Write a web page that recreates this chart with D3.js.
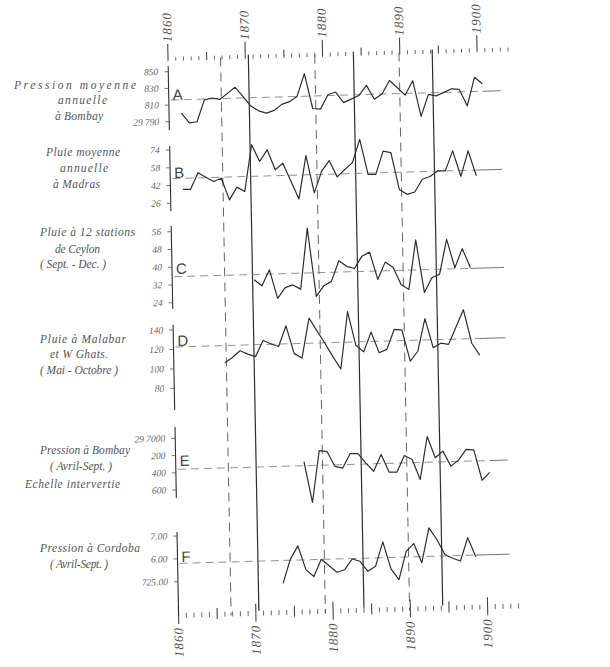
<!DOCTYPE html>
<html>
<head>
<meta charset="utf-8">
<script src="https://cdn.jsdelivr.net/npm/d3@7"></script>
<style>
  html, body { margin: 0; padding: 0; background: #fff; }
  svg { display: block; }
</style>
</head>
<body>
<svg id="chart" width="610" height="667"></svg>
<script>
// Sunspot epochs: minima drawn dashed, maxima drawn solid
const minimaYears = [1866.8, 1879.0, 1889.9];
const maximaYears = [1870.4, 1884.0, 1894.2];

// Axis years
const decadeYears = [1860, 1870, 1880, 1890, 1900];

// A — Pression moyenne annuelle à Bombay (inches)
const bombayAnnualFirstYear = 1861;
const bombayAnnual = [29.800, 29.788, 29.789, 29.815, 29.817, 29.815, 29.822, 29.829, 29.818, 29.806,
  29.800, 29.797, 29.800, 29.807, 29.810, 29.816, 29.843, 29.801, 29.800, 29.817,
  29.820, 29.807, 29.811, 29.815, 29.827, 29.810, 29.816, 29.832, 29.823, 29.814,
  29.831, 29.788, 29.814, 29.812, 29.816, 29.820, 29.819, 29.799, 29.833, 29.825];
const bombayAnnualMean = 29.816;
const bombayAnnualTicks = [29.85, 29.83, 29.81, 29.79];
const bombayAnnualTickLabels = ["850", "830", "810", "29 790"];

// B — Pluie moyenne annuelle à Madras (inches)
const madrasFirstYear = 1861;
const madrasRain = [38.3, 38.1, 52.9, 48.6, 44.5, 47.3, 27.6, 38.9, 34.7, 76.7,
  61.4, 71.7, 53.5, 59.3, 42.8, 26.7, 65.5, 31.8, 51.2, 60.5,
  45.6, 52.0, 58.0, 78.8, 47.0, 46.8, 67.6, 66.0, 32.7, 28.1,
  30.0, 41.3, 43.6, 48.4, 48.3, 66.1, 43.0, 65.7, 43.1];
const madrasMean = 48.2;
const madrasTicks = [74, 58, 42, 26];
const madrasTickLabels = ["74", "58", "42", "26"];

// C — Pluie à 12 stations de Ceylon, Sept.–Déc. (inches)
const ceylonFirstYear = 1870;
const ceylonRain = [33.3, 30.5, 37.6, 24.6, 29.4, 30.5, 28.5, 55.9, 25.0, 29.7,
  31.6, 40.8, 38.2, 37.1, 42.5, 44.3, 31.9, 39.6, 37.2, 29.3,
  27.0, 49.2, 25.4, 32.0, 33.4, 49.1, 36.2, 44.7, 36.1];
const ceylonMean = 35.7;
const ceylonTicks = [56, 48, 40, 32, 24];
const ceylonTickLabels = ["56", "48", "40", "32", "24"];

// D — Pluie à Malabar et W Ghats, Mai–Octobre (inches)
const malabarFirstYear = 1866;
const malabarRain = [104.8, 110.0, 116.8, 113.0, 110.3, 126.6, 123.0, 120.0, 141.0, 112.2,
  107.4, 148.4, 135.0, 122.0, 108.0, 95.1, 153.8, 119.0, 112.0, 132.1,
  110.7, 113.9, 134.2, 133.3, 101.1, 111.1, 144.4, 114.4, 118.7, 117.3,
  134.9, 152.4, 117.8, 105.3];
const malabarMean = 122.5;
const malabarTicks = [140, 120, 100, 80];
const malabarTickLabels = ["140", "120", "100", "80"];

// E — Pression à Bombay, Avril–Sept. (inches, inverted scale)
const bombaySummerFirstYear = 1876;
const bombaySummer = [29.7311, 29.7789, 29.7189, 29.7203, 29.7378, 29.7400, 29.7234, 29.7236, 29.7350, 29.7447,
  29.7255, 29.7463, 29.7465, 29.7274, 29.7323, 29.7557, 29.7061, 29.7310, 29.7236, 29.7412,
  29.7345, 29.7223, 29.7232, 29.7586, 29.7497];
const bombaySummerMean = 29.7360;
const bombaySummerTicks = [29.70, 29.72, 29.74, 29.76];
const bombaySummerTickLabels = ["29 7000", "200", "400", "600"];

// F — Pression à Cordoba, Avril–Sept. (mm)
const cordobaFirstYear = 1873;
const cordobaPressure = [724.80, 725.85, 726.42, 725.36, 725.06, 725.81, 725.51, 725.22, 725.32, 725.78,
  725.67, 725.22, 725.43, 726.49, 725.30, 724.82, 726.05, 726.38, 725.53, 727.05,
  726.53, 725.86, 725.69, 725.56, 726.57, 725.73];
const cordobaMean = 725.80;
const cordobaTicks = [727, 726, 725];
const cordobaTickLabels = ["7.00", "6.00", "725.00"];

// Left-hand captions
const captions = [
  ["Pression moyenne", "annuelle", "à Bombay"],
  ["Pluie moyenne", "annuelle", "à Madras"],
  ["Pluie à 12 stations", "de Ceylon", "( Sept. - Dec. )"],
  ["Pluie à Malabar", "et W Ghats.", "( Mai - Octobre )"],
  ["Pression à Bombay", "( Avril-Sept. )", "Echelle intervertie"],
  ["Pression à Cordoba", "( Avril-Sept. )"]
];

// ---------------------------------------------------------------
const ink = "#2e2e2e";
const serif = "'Liberation Serif', 'DejaVu Serif', serif";
const sans = "'Liberation Sans', Arial, sans-serif";

const svg = d3.select("#chart");

// The sheet is drawn slightly askew
const kx = 0.019, ky = 0.028;
const g = svg.append("g")
  .attr("transform", `matrix(1,${-ky},${kx},1,${(-kx * 58).toFixed(3)},${(ky * 168).toFixed(3)})`);

const x = d3.scaleLinear().domain([1860, 1900]).range([168, 477]);
const plotOffset = 0.6;          // yearly values sit inside their year
const axisX = x(1860);
const rightEnd = 500;

// caption layout: [left x, width, baseline] per line
const panels = [
  { letter: "A", first: bombayAnnualFirstYear, values: bombayAnnual, mean: bombayAnnualMean,
    ticks: bombayAnnualTicks, labels: bombayAnnualTickLabels,
    y: d3.scaleLinear().domain([29.79, 29.85]).range([121.7, 71.7]), span: [66, 130], letterY: 100,
    caption: captions[0], capBox: [[14, 122, 89], [58, 49, 104], [55, 48, 120]] },
  { letter: "B", first: madrasFirstYear, values: madrasRain, mean: madrasMean,
    ticks: madrasTicks, labels: madrasTickLabels,
    y: d3.scaleLinear().domain([26, 74]).range([203.3, 150]), span: [146, 211], letterY: 178,
    caption: captions[1], capBox: [[46, 74, 156], [60, 48, 172], [53, 47, 188]] },
  { letter: "C", first: ceylonFirstYear, values: ceylonRain, mean: ceylonMean,
    ticks: ceylonTicks, labels: ceylonTickLabels,
    y: d3.scaleLinear().domain([24, 56]).range([302.7, 231.7]), span: [226, 309], letterY: 274,
    caption: captions[2], capBox: [[40, 95, 236], [55, 45, 253], [40, 66, 268]] },
  { letter: "D", first: malabarFirstYear, values: malabarRain, mean: malabarMean,
    ticks: malabarTicks, labels: malabarTickLabels,
    y: d3.scaleLinear().domain([80, 140]).range([388.3, 330]), span: [325, 410], letterY: 346,
    caption: captions[3], capBox: [[40, 86, 343], [50, 58, 358], [40, 78, 374]] },
  { letter: "E", first: bombaySummerFirstYear, values: bombaySummer, mean: bombaySummerMean,
    ticks: bombaySummerTicks, labels: bombaySummerTickLabels,
    y: d3.scaleLinear().domain([29.70, 29.76]).range([438.3, 490]), span: [427, 498], letterY: 466,
    caption: captions[4], capBox: [[40, 90, 454], [50, 62, 470], [25, 95, 488]] },
  { letter: "F", first: cordobaFirstYear, values: cordobaPressure, mean: cordobaMean,
    ticks: cordobaTicks, labels: cordobaTickLabels,
    y: d3.scaleLinear().domain([725, 727]).range([581.7, 536]), span: [532, 616], letterY: 562,
    caption: captions[5], capBox: [[40, 100, 552], [50, 58, 568]] }
];

// Sunspot epoch verticals
const vTop = 59, vBottom = 617;
g.selectAll("line.min").data(minimaYears).join("line")
  .attr("x1", d => x(d)).attr("x2", d => x(d))
  .attr("y1", vTop).attr("y2", vBottom)
  .attr("stroke", "#555").attr("stroke-width", 0.9).attr("stroke-dasharray", "9,6");
g.selectAll("line.max").data(maximaYears).join("line")
  .attr("x1", d => x(d)).attr("x2", d => x(d))
  .attr("y1", vTop - 2).attr("y2", vBottom - 4)
  .attr("stroke", ink).attr("stroke-width", 1.2);

// Top and bottom year scales
const tickYears = d3.range(1860, 1905);
const topY = 61;
g.append("g").selectAll("line").data(tickYears).join("line")
  .attr("x1", d => x(d)).attr("x2", d => x(d))
  .attr("y1", d => d % 10 === 0 ? 44 : (d % 5 === 0 ? 53 : 57)).attr("y2", topY)
  .attr("stroke", "#444").attr("stroke-width", d => d % 5 === 0 ? 1.1 : 0.8);
g.append("g").selectAll("line").data(tickYears).join("line")
  .attr("x1", d => x(d)).attr("x2", d => x(d))
  .attr("y1", d => d % 10 === 0 ? 606 : (d % 5 === 0 ? 609 : 613))
  .attr("y2", d => d % 10 === 0 ? 624 : (d % 5 === 0 ? 620 : 618))
  .attr("stroke", "#444").attr("stroke-width", d => d % 5 === 0 ? 1.1 : 0.8);

g.append("g").selectAll("text").data(decadeYears).join("text")
  .attr("transform", d => `translate(${x(d) + 4},42) rotate(-90)`)
  .attr("font-family", serif).attr("font-style", "italic").attr("font-size", 13)
  .attr("letter-spacing", 1).attr("fill", "#555")
  .text(d => d);
g.append("g").selectAll("text").data(decadeYears).join("text")
  .attr("transform", d => `translate(${x(d) + 4},627) rotate(-90)`)
  .attr("text-anchor", "end")
  .attr("font-family", serif).attr("font-style", "italic").attr("font-size", 13)
  .attr("letter-spacing", 1).attr("fill", "#555")
  .text(d => d);

const line = d3.line().curve(d3.curveLinear);

panels.forEach(p => {
  const pg = g.append("g");
  const pts = p.values.map((v, i) => [x(p.first + i + plotOffset), p.y(v)]);
  const yMean = p.y(p.mean);
  const dataEnd = pts[pts.length - 1][0];

  // mean level
  pg.append("line").attr("x1", axisX + 2).attr("x2", dataEnd)
    .attr("y1", yMean).attr("y2", yMean)
    .attr("stroke", "#777").attr("stroke-width", 0.8).attr("stroke-dasharray", "8,5");
  pg.append("line").attr("x1", dataEnd).attr("x2", rightEnd)
    .attr("y1", yMean).attr("y2", yMean)
    .attr("stroke", "#666").attr("stroke-width", 0.9);

  // vertical scale with its ticks
  pg.append("line").attr("x1", axisX).attr("x2", axisX)
    .attr("y1", p.span[0]).attr("y2", p.span[1])
    .attr("stroke", ink).attr("stroke-width", 1.1);
  pg.selectAll("line.tk").data(p.ticks).join("line")
    .attr("x1", axisX - 4).attr("x2", axisX)
    .attr("y1", d => p.y(d)).attr("y2", d => p.y(d))
    .attr("stroke", "#555").attr("stroke-width", 0.8);
  pg.selectAll("text.tl").data(p.ticks).join("text")
    .attr("x", axisX - 10).attr("y", d => p.y(d) + 3)
    .attr("text-anchor", "end")
    .attr("font-family", serif).attr("font-style", "italic").attr("font-size", 9.5)
    .attr("fill", "#666")
    .text((d, i) => p.labels[i]);

  pg.append("text").attr("x", axisX + 4).attr("y", p.letterY)
    .attr("font-family", sans).attr("font-size", 15).attr("fill", "#444")
    .text(p.letter);

  // series
  pg.append("path").attr("d", line(pts))
    .attr("fill", "none").attr("stroke", ink).attr("stroke-width", 1.2)
    .attr("stroke-linejoin", "round");

  // caption
  svg.append("g").selectAll("text").data(p.caption).join("text")
    .attr("x", (d, i) => p.capBox[i][0]).attr("y", (d, i) => p.capBox[i][2])
    .attr("textLength", (d, i) => p.capBox[i][1]).attr("lengthAdjust", "spacing")
    .attr("font-family", serif).attr("font-style", "italic").attr("font-size", 11.5)
    .attr("fill", "#555")
    .text(d => d);
});
</script>
</body>
</html>
